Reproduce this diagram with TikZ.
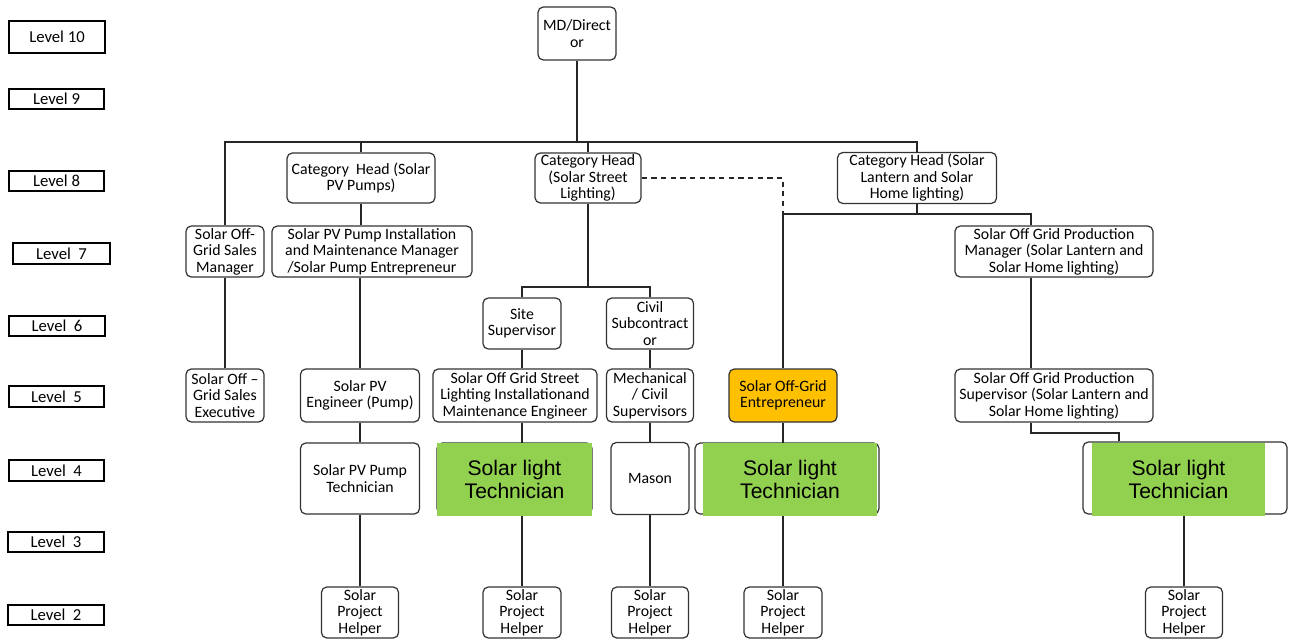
\documentclass[tikz,border=0pt]{standalone}
\usepackage{fontspec}
\setmainfont{Carlito}
\newfontfamily\arialfont{Liberation Sans}
\usepackage{tikz}

\definecolor{techgreen}{HTML}{92D050}
\definecolor{entorange}{HTML}{FFC000}

\begin{document}
\begin{tikzpicture}[x=0.02cm,y=-0.02cm,
    lvl/.style={shape=rectangle,draw=black,line width=0.8pt,inner sep=0pt,font=\fontsize{9.5}{11}\selectfont},
    post/.style={shape=rectangle,rounded corners=3pt,draw=black!80,fill=white,line width=0.7pt,align=center,inner sep=0pt,font=\fontsize{9}{9.4}\selectfont},
    greenbox/.style={shape=rectangle,fill=techgreen,inner sep=0pt,align=center,font=\arialfont\fontsize{12}{13.6}\selectfont},
    link/.style={draw=black!85,line width=0.8pt}]
        \useasboundingbox (0,0) rectangle (1290,639);

        % level column
        \node[lvl,minimum width=1.92cm,minimum height=0.64cm] (l10) at (57,37)    {Level 10};
        \node[lvl,minimum width=1.90cm,minimum height=0.40cm] (l9)  at (56.5,99)  {Level 9};
        \node[lvl,minimum width=1.90cm,minimum height=0.40cm] (l8)  at (56.5,181) {Level 8};
        \node[lvl,minimum width=1.94cm,minimum height=0.42cm] (l7)  at (61.5,253.5) {Level~ 7};
        \node[lvl,minimum width=1.92cm,minimum height=0.40cm] (l6)  at (57,326)   {Level~ 6};
        \node[lvl,minimum width=1.90cm,minimum height=0.42cm] (l5)  at (56.5,396.5) {Level~ 5};
        \node[lvl,minimum width=1.90cm,minimum height=0.42cm] (l4)  at (56.5,470.5) {Level~ 4};
        \node[lvl,minimum width=1.92cm,minimum height=0.40cm] (l3)  at (56,542)   {Level~ 3};
        \node[lvl,minimum width=1.92cm,minimum height=0.40cm] (l2)  at (56,615)   {Level~ 2};

        % posts
        \node[post,minimum width=1.56cm,minimum height=1.06cm] (md)         at (577,33.5)  {MD/Direct\\or};
        \node[post,minimum width=2.96cm,minimum height=1.00cm] (catpump)    at (361,178)   {Category~ Head (Solar\\PV Pumps)};
        \node[post,minimum width=2.12cm,minimum height=1.00cm] (catstreet)  at (588,178)   {Category Head\\(Solar Street\\Lighting)};
        \node[post,minimum width=3.18cm,minimum height=1.02cm] (catlantern) at (917,178) {Category Head (Solar\\Lantern and Solar\\Home lighting)};
        \node[post,minimum width=1.56cm,minimum height=1.02cm] (salesmgr)   at (225,251.5) {Solar Off-\\Grid Sales\\Manager};
        \node[post,minimum width=4.00cm,minimum height=1.02cm] (pumpmgr)    at (372,251.5) {Solar PV Pump Installation\\and Maintenance Manager\\/Solar Pump Entrepreneur};
        \node[post,minimum width=3.96cm,minimum height=1.02cm] (prodmgr)    at (1054,251.5) {Solar Off Grid Production\\Manager (Solar Lantern and\\Solar Home lighting)};
        \node[post,minimum width=1.56cm,minimum height=1.02cm] (sitesup)    at (522,323.5) {Site\\Supervisor};
        \node[post,minimum width=1.74cm,minimum height=1.02cm] (civilsub)   at (650,323.5) {Civil\\Subcontract\\or};
        \node[post,minimum width=1.56cm,minimum height=1.06cm] (salesexec)  at (225,395.5) {Solar Off –\\Grid Sales\\Executive};
        \node[post,minimum width=2.38cm,minimum height=1.06cm] (pvengineer) at (360,395.5) {Solar PV\\Engineer (Pump)};
        \node[post,minimum width=3.28cm,minimum height=1.06cm] (streeteng)  at (515,395.5) {Solar Off Grid Street\\Lighting Installationand\\Maintenance Engineer};
        \node[post,minimum width=1.74cm,minimum height=1.06cm] (mechsup)    at (650,395.5) {Mechanical\\/ Civil\\Supervisors};
        \node[post,fill=entorange,minimum width=2.16cm,minimum height=1.06cm] (entrepreneur) at (783,395.5) {Solar Off-Grid\\Entrepreneur};
        \node[post,minimum width=3.96cm,minimum height=1.06cm] (prodsup)    at (1054,395.5) {Solar Off Grid Production\\Supervisor (Solar Lantern and\\Solar Home lighting)};
        \node[post,minimum width=2.38cm,minimum height=1.42cm] (pumptech)   at (360,478.5) {Solar PV Pump\\Technician};
        \node[post,minimum width=1.56cm,minimum height=1.44cm] (mason)      at (650,478.5) {Mason};

        % technician boxes with green cover
        \node[post,minimum width=3.10cm,minimum height=1.42cm] (streettechbox) at (514.5,478.5) {};
        \node[greenbox,minimum width=3.10cm,minimum height=1.46cm] (streettech) at (514.5,479.5) {Solar light\\Technician};
        \node[post,minimum width=3.68cm,minimum height=1.42cm] (enttechbox) at (787,478.5) {};
        \node[greenbox,minimum width=3.48cm,minimum height=1.46cm] (enttech) at (790,479.5) {Solar light\\Technician};
        \node[post,minimum width=4.08cm,minimum height=1.44cm] (righttechbox) at (1185,478) {};
        \node[greenbox,minimum width=3.46cm,minimum height=1.46cm] (righttech) at (1178.5,479.5) {Solar light\\Technician};

        % helpers
        \node[post,minimum width=1.54cm,minimum height=1.02cm] (helper1) at (360,612.5) {Solar\\Project\\Helper};
        \node[post,minimum width=1.56cm,minimum height=1.02cm] (helper2) at (522,612.5) {Solar\\Project\\Helper};
        \node[post,minimum width=1.54cm,minimum height=1.02cm] (helper3) at (650,612.5) {Solar\\Project\\Helper};
        \node[post,minimum width=1.56cm,minimum height=1.02cm] (helper4) at (783,612.5) {Solar\\Project\\Helper};
        \node[post,minimum width=1.54cm,minimum height=1.02cm] (helper5) at (1184,612.5) {Solar\\Project\\Helper};

        \coordinate (bus) at (577,142);
        \coordinate (streetsplit) at (588,287);
        \coordinate (lanternsplit) at (917,214);
        \coordinate (proddrop) at (1031,214);
        \coordinate (prodjog) at (1119,433);

	\draw[link] (md) -- (bus);
	\draw[link] (salesmgr.north) |- (bus) -| (catlantern.north);
	\draw[link] (catpump.north) -- (catpump.north |- bus);
	\draw[link] (catstreet.north) -- (catstreet.north |- bus);
	\draw[link] (catpump.south) -- (catpump.south |- pumpmgr.north);
	\draw[link] (salesmgr) -- (salesexec);
	\draw[link] (pvengineer.north) -- (pvengineer.north |- pumpmgr.south);
	\draw[link] (pvengineer) -- (pumptech);
	\draw[link] (pumptech) -- (helper1);
	\draw[link] (catstreet) -- (streetsplit);
	\draw[link] (sitesup.north) |- (streetsplit) -| (civilsub.north);
	\draw[link] (sitesup.south) -- (sitesup.south |- streeteng.north);
	\draw[link] (sitesup.south |- streeteng.south) -- (sitesup.south |- streettech.north);
	\draw[link] (sitesup.south |- streettech.south) -- (helper2);
	\draw[link] (civilsub) -- (mechsup);
	\draw[link] (mechsup) -- (mason);
	\draw[link] (mason) -- (helper3);
	\draw[link,dash pattern=on 3pt off 2.5pt] (catstreet.east) -| (entrepreneur.north |- lanternsplit);
	\draw[link] (catlantern) -- (lanternsplit);
	\draw[link] (entrepreneur.north) |- (lanternsplit) -- (proddrop) -- (proddrop |- prodmgr.north);
	\draw[link] (proddrop |- prodmgr.south) -- (proddrop |- prodsup.north);
	\draw[link] (proddrop |- prodsup.south) -- (proddrop |- prodjog) -- (prodjog) -- (prodjog |- righttechbox.north);
	\draw[link] (entrepreneur.south) -- (entrepreneur.south |- enttech.north);
	\draw[link] (entrepreneur.south |- enttech.south) -- (helper4);
	\draw[link] (helper5.north |- righttech.south) -- (helper5);
\end{tikzpicture}
\end{document}
